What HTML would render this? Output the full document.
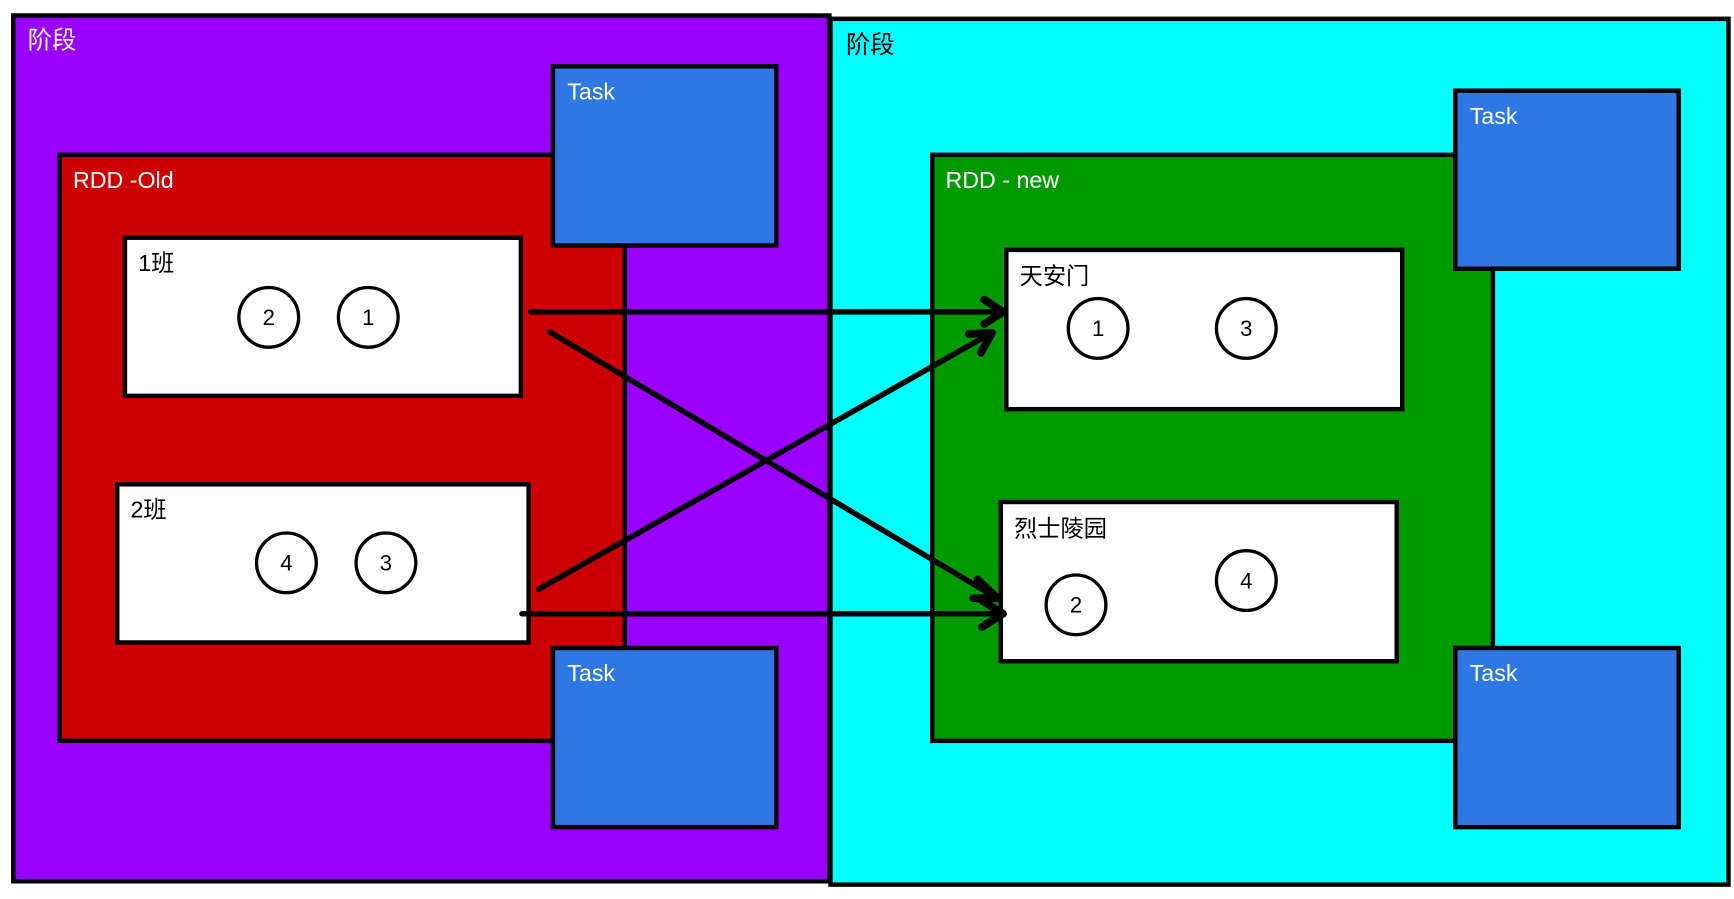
<!DOCTYPE html>
<html><head><meta charset="utf-8"><style>
html,body{margin:0;padding:0;background:#fff;}
svg{display:block;}
text{font-family:"Liberation Sans","Noto Sans CJK SC",sans-serif;}
</style></head><body>
<svg width="1734" height="899" viewBox="0 0 1568 813" preserveAspectRatio="none" xmlns="http://www.w3.org/2000/svg">
<rect x="12" y="14" width="738" height="783" fill="#9900ff" stroke="#000" stroke-width="4"/>
<text x="25" y="44" font-size="22" fill="#fff">阶段</text>
<rect x="751" y="17" width="812" height="783" fill="#00ffff" stroke="#000" stroke-width="4"/>
<text x="765" y="48" font-size="22" fill="#000">阶段</text>
<rect x="54" y="140" width="511" height="530" fill="#cc0000" stroke="#000" stroke-width="4"/>
<text x="66" y="170" font-size="21" fill="#fff">RDD -Old</text>
<rect x="843" y="140" width="507" height="530" fill="#009900" stroke="#000" stroke-width="4"/>
<text x="855" y="170" font-size="21" fill="#fff">RDD - new</text>
<g fill="#2e78e3" stroke="#000" stroke-width="4">
<rect x="500" y="60" width="202" height="162"/>
<rect x="500" y="586" width="202" height="162"/>
<rect x="1316" y="82" width="202" height="161"/>
<rect x="1316" y="586" width="202" height="162"/>
</g>
<g font-size="21" fill="#fff">
<text x="513" y="90">Task</text>
<text x="513" y="616">Task</text>
<text x="1329" y="112">Task</text>
<text x="1329" y="616">Task</text>
</g>
<g fill="#fff" stroke="#000" stroke-width="4">
<rect x="113" y="215" width="358" height="143"/>
<rect x="106" y="438" width="372" height="143"/>
<rect x="910" y="226" width="358" height="144"/>
<rect x="905" y="454" width="358" height="144"/>
</g>
<g font-size="21" fill="#000">
<text x="125" y="245">1班</text>
<text x="118" y="468">2班</text>
<text x="922" y="257">天安门</text>
<text x="917" y="485">烈士陵园</text>
</g>
<g fill="#fff" stroke="#000" stroke-width="3">
<circle cx="243" cy="287" r="27"/><circle cx="333" cy="287" r="27"/>
<circle cx="259" cy="509" r="27"/><circle cx="349" cy="509" r="27"/>
<circle cx="993" cy="297" r="27"/><circle cx="1127" cy="297" r="27"/>
<circle cx="973" cy="547" r="27"/><circle cx="1127" cy="525" r="27"/>
</g>
<g font-size="20" fill="#000" text-anchor="middle">
<text x="243" y="294">2</text><text x="333" y="294">1</text>
<text x="259" y="516">4</text><text x="349" y="516">3</text>
<text x="993" y="304">1</text><text x="1127" y="304">3</text>
<text x="973" y="554">2</text><text x="1127" y="532">4</text>
</g>
<g stroke="#000" stroke-width="5" stroke-linecap="round" stroke-linejoin="round" fill="none">
<line x1="480" y1="282" x2="905" y2="282"/>
<line x1="497" y1="300" x2="900" y2="540"/>
<line x1="487" y1="533" x2="895" y2="302"/>
<line x1="472" y1="555" x2="905" y2="555"/>
</g>
<g stroke="#000" stroke-width="7" stroke-linecap="round" stroke-linejoin="round" fill="none">
<polyline points="890,271 907,282 890,293"/>
<polyline points="884,524 902,541 880,541"/>
<polyline points="876,302 897,301 887,319"/>
<polyline points="888,543 907,555 888,567"/>
</g>
</svg>
</body></html>
